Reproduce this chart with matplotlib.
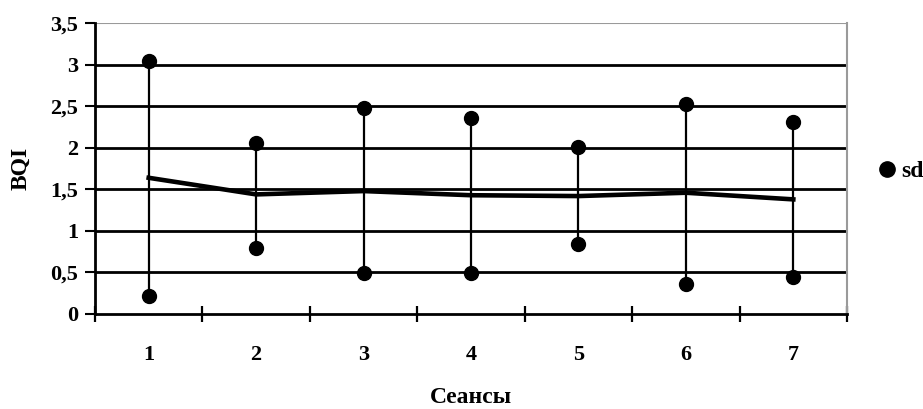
import matplotlib
matplotlib.use("Agg")
import matplotlib.pyplot as plt
from matplotlib.ticker import FuncFormatter, FixedLocator

# Donnees
seances = [1, 2, 3, 4, 5, 6, 7]
moyenne = [1.64, 1.44, 1.48, 1.43, 1.42, 1.46, 1.38]
sd_haut = [3.05, 2.06, 2.48, 2.36, 2.01, 2.53, 2.31]
sd_bas = [0.22, 0.80, 0.49, 0.49, 0.84, 0.36, 0.45]
y_ticks = [0, 0.5, 1, 1.5, 2, 2.5, 3, 3.5]

plt.rcParams['font.family'] = ['Liberation Serif', 'DejaVu Serif']
plt.rcParams['font.weight'] = 'bold'

fig = plt.figure(figsize=(9.23, 4.09), dpi=100)
ax = fig.add_axes([0.1029, 0.2323, 0.8148, 0.7107])

# Grille horizontale
for y in y_ticks[1:-1]:
    ax.axhline(y, color='black', linewidth=2, zorder=1)
ax.axhline(3.5, color='#9a9a9a', linewidth=1.5, zorder=1)

# Barres sd
for x, lo, hi in zip(seances, sd_bas, sd_haut):
    ax.plot([x, x], [lo, hi], color='black', linewidth=1.6, zorder=2)
ax.plot(seances, sd_haut, 'o', color='black', markersize=10, zorder=3, label='sd')
ax.plot(seances, sd_bas, 'o', color='black', markersize=10, zorder=3)

# Moyenne
ax.plot(seances, moyenne, color='black', linewidth=3.3, zorder=2)

ax.set_xlim(0.5, 7.5)
ax.set_ylim(0, 3.5)

ax.spines['top'].set_visible(False)
ax.spines['right'].set_color('#9a9a9a')
ax.spines['right'].set_linewidth(1.5)
ax.spines['left'].set_linewidth(2)
ax.spines['bottom'].set_linewidth(2)

ax.set_yticks(y_ticks)
ax.yaxis.set_major_formatter(FuncFormatter(lambda v, p: ('%g' % v).replace('.', ',')))
ax.tick_params(axis='y', length=7, width=1.5, direction='out', labelsize=16, pad=5)

ax.set_xticks(seances)
ax.set_xticklabels([str(s) for s in seances])
ax.tick_params(axis='x', which='major', length=0, labelsize=16, pad=22)
ax.xaxis.set_minor_locator(FixedLocator([i + 0.5 for i in range(0, 8)]))
ax.tick_params(axis='x', which='minor', length=12, width=1.6, direction='inout')

ax.set_ylabel('BQI', fontsize=17, fontweight='bold', labelpad=14)
ax.set_xlabel('Сеансы', fontsize=17, fontweight='bold', labelpad=16)

leg = ax.legend(loc='center left', bbox_to_anchor=(1.015, 0.49), frameon=False,
                fontsize=17, handlelength=0.6, handletextpad=0.3, markerscale=1.1)

fig.savefig('out.png', dpi=100)
